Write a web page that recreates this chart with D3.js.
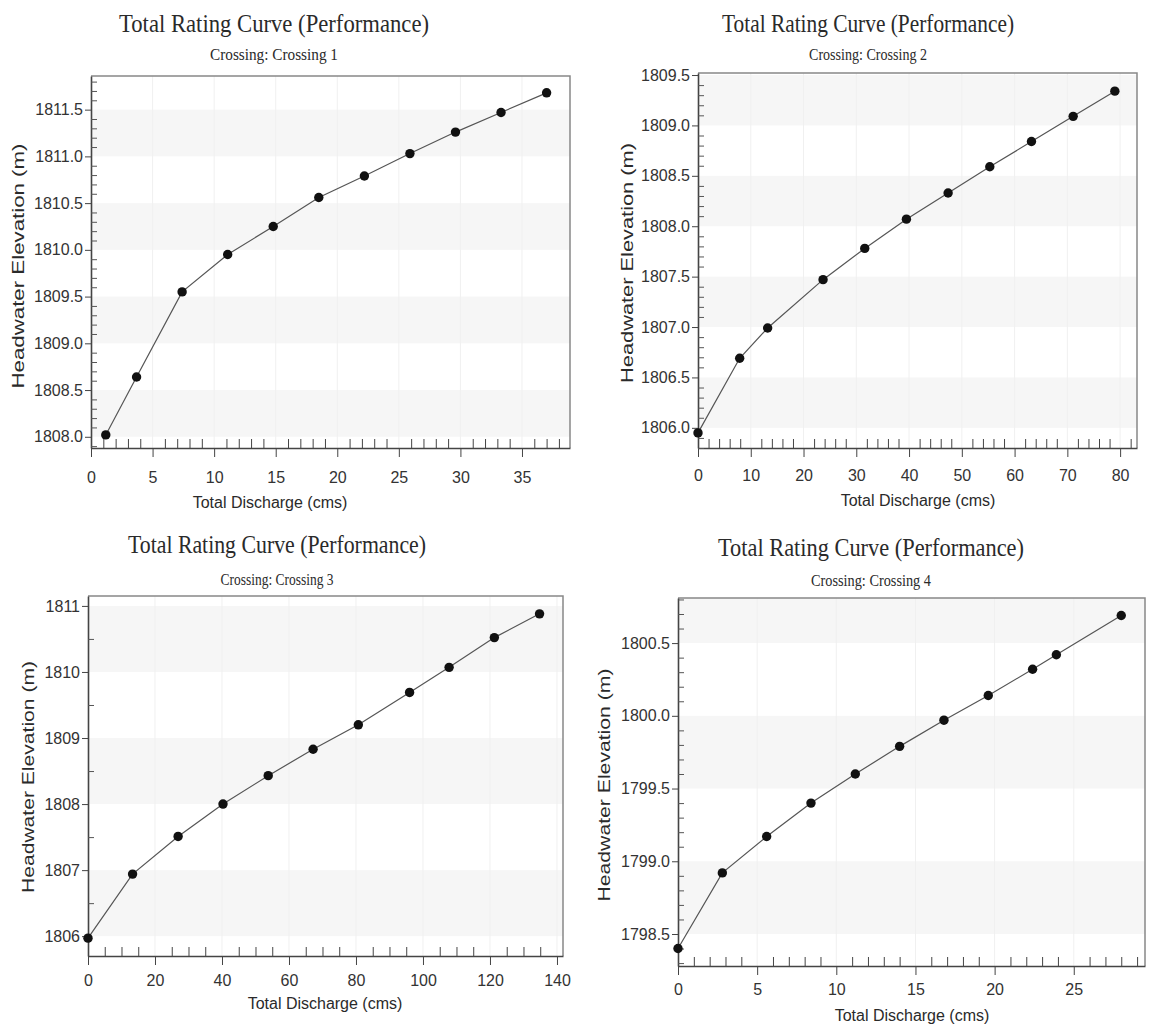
<!DOCTYPE html>
<html>
<head>
<meta charset="utf-8">
<title>Total Rating Curves</title>
<script src="https://cdn.jsdelivr.net/npm/d3@7"></script>
<style>
  body { margin: 0; background: #fff; }
  .tick text { font-family: "Liberation Sans", Arial, sans-serif; font-size: 16px; fill: #333; }
</style>
</head>
<body>
<svg width="1149" height="1030" id="mainsvg"></svg>
<script>
// ---- data ----
const chartTitle = 'Total Rating Curve (Performance)';
const crossings = ['Crossing: Crossing 1', 'Crossing: Crossing 2', 'Crossing: Crossing 3', 'Crossing: Crossing 4'];
const xLabel = 'Total Discharge (cms)';
const yLabel = 'Headwater Elevation (m)';

// discharge (cms) and headwater (m) per crossing
const q1 = [1.2, 3.7, 7.4, 11.1, 14.8, 18.5, 22.2, 25.9, 29.6, 33.3, 37.0];
const h1 = [1808.02, 1808.64, 1809.55, 1809.95, 1810.25, 1810.56, 1810.79, 1811.03, 1811.26, 1811.47, 1811.68];

const q2 = [0, 7.9, 13.2, 23.7, 31.6, 39.5, 47.4, 55.3, 63.2, 71.1, 79.0];
const h2 = [1805.95, 1806.69, 1806.99, 1807.47, 1807.78, 1808.07, 1808.33, 1808.59, 1808.84, 1809.09, 1809.34];

const q3 = [0, 13.3, 26.9, 40.3, 53.8, 67.2, 80.7, 96.0, 107.8, 121.3, 134.8];
const h3 = [1805.97, 1806.94, 1807.51, 1808.0, 1808.43, 1808.83, 1809.2, 1809.69, 1810.07, 1810.52, 1810.88];

const q4 = [0, 2.8, 5.6, 8.4, 11.2, 14.0, 16.8, 19.6, 22.4, 23.9, 28.0];
const h4 = [1798.4, 1798.92, 1799.17, 1799.4, 1799.6, 1799.79, 1799.97, 1800.14, 1800.32, 1800.42, 1800.69];

// tick settings per panel
const xMajorSteps = [5, 10, 20, 5];
const xMinorSteps = [1, 2, 5, 1];
const yMajorSteps = [0.5, 0.5, 1, 0.5];
const yMinorSteps = [0.1, 0.1, 0.5, 0.1];
const yFormats = ['.1f', '.1f', 'd', '.1f'];

// ---- layout ----
const panels = [
  { q: q1, h: h1, box: { l: 91, t: 76, r: 570, b: 448 }, xDom: [0, 38.9], yDom: [1807.88, 1811.86], pad: 15,
    tx: 274, ty: 32, tw: 310, sy: 60, sw: 128, ylx: 18, yly: 266, ylw: 245, xlx: 270, xly: 508 },
  { q: q2, h: h2, box: { l: 698, t: 73, r: 1137, b: 448 }, xDom: [0, 83.2], yDom: [1805.8, 1809.52], pad: 13,
    tx: 868, ty: 32, tw: 292, sy: 60, sw: 118, ylx: 627, yly: 263, ylw: 240, xlx: 918, xly: 506 },
  { q: q3, h: h3, box: { l: 88, t: 596, r: 563, b: 956 }, xDom: [0, 141.8], yDom: [1805.7, 1811.15], pad: 10,
    tx: 277, ty: 553, tw: 298, sy: 585, sw: 113, ylx: 28, yly: 777, ylw: 232, xlx: 325, xly: 1009 },
  { q: q4, h: h4, box: { l: 678, t: 598, r: 1145, b: 966 }, xDom: [0, 29.5], yDom: [1798.28, 1800.81], pad: 9,
    tx: 871, ty: 556, tw: 306, sy: 586, sw: 120, ylx: 604, yly: 785, ylw: 233, xlx: 912, xly: 1021 }
];

const svg = d3.select('svg');
svg.append('rect').attr('width', 1149).attr('height', 1030).attr('fill', '#fff');

const eps = 1e-9;
function ticksBy(dom, step) {
  const start = Math.ceil(dom[0] / step - eps) * step;
  return d3.range(start, dom[1] + eps, step).map(v => +v.toFixed(4));
}

panels.forEach((p, i) => {
  const g = svg.append('g');
  const x = d3.scaleLinear().domain(p.xDom).range([p.box.l, p.box.r]);
  const y = d3.scaleLinear().domain(p.yDom).range([p.box.b, p.box.t]);

  const xMajor = ticksBy(p.xDom, xMajorSteps[i]);
  const xMinor = ticksBy(p.xDom, xMinorSteps[i]).filter(v => !xMajor.some(m => Math.abs(m - v) < 1e-6));
  const yMajor = ticksBy(p.yDom, yMajorSteps[i]);
  const yMinor = ticksBy(p.yDom, yMinorSteps[i]).filter(v => !yMajor.some(m => Math.abs(m - v) < 1e-6));

  // alternating horizontal bands
  yMajor.forEach((v, k) => {
    if (k % 2 !== 0) return;
    const top = Math.min(v + yMajorSteps[i], p.yDom[1]);
    g.append('rect')
      .attr('x', p.box.l).attr('width', p.box.r - p.box.l)
      .attr('y', y(top)).attr('height', y(v) - y(top))
      .attr('fill', '#f6f6f6');
  });

  // faint vertical grid at major x ticks
  g.selectAll('.vgrid').data(xMajor.filter(v => v > 0)).join('line')
    .attr('x1', d => x(d)).attr('x2', d => x(d))
    .attr('y1', p.box.t).attr('y2', p.box.b)
    .attr('stroke', '#f0f0f0').attr('stroke-width', 1);

  // frame (top & right)
  g.append('path')
    .attr('d', `M${p.box.l},${p.box.t}H${p.box.r}V${p.box.b}`)
    .attr('fill', 'none').attr('stroke', '#888').attr('stroke-width', 1.5);

  // bottom axis: majors outside, minors inside
  g.append('g').attr('transform', `translate(0,${p.box.b})`)
    .call(d3.axisBottom(x).tickValues(xMajor).tickSize(9).tickPadding(p.pad).tickSizeOuter(0))
    .call(a => a.select('.domain').attr('stroke', '#444').attr('stroke-width', 1.6))
    .call(a => a.selectAll('.tick line').attr('stroke', '#444'));
  g.append('g').attr('transform', `translate(0,${p.box.b})`)
    .call(d3.axisBottom(x).tickValues(xMinor).tickSize(-9).tickFormat('').tickSizeOuter(0))
    .call(a => a.select('.domain').remove())
    .call(a => a.selectAll('.tick line').attr('stroke', '#444'));

  // left axis: majors outside, minors inside
  g.append('g').attr('transform', `translate(${p.box.l},0)`)
    .call(d3.axisLeft(y).tickValues(yMajor).tickSize(6).tickPadding(2).tickSizeOuter(0).tickFormat(d3.format(yFormats[i])))
    .call(a => a.select('.domain').attr('stroke', '#444').attr('stroke-width', 1.6))
    .call(a => a.selectAll('.tick line').attr('stroke', '#444'));
  g.append('g').attr('transform', `translate(${p.box.l},0)`)
    .call(d3.axisLeft(y).tickValues(yMinor).tickSize(-6).tickFormat('').tickSizeOuter(0))
    .call(a => a.select('.domain').remove())
    .call(a => a.selectAll('.tick line').attr('stroke', '#555'));

  // rating curve
  const pts = p.q.map((v, k) => [v, p.h[k]]);
  g.append('path').datum(pts)
    .attr('d', d3.line().x(d => x(d[0])).y(d => y(d[1])))
    .attr('fill', 'none').attr('stroke', '#555').attr('stroke-width', 1.2);
  g.selectAll('.pt').data(pts).join('circle')
    .attr('cx', d => x(d[0])).attr('cy', d => y(d[1]))
    .attr('r', 4.7).attr('fill', '#111');

  // titles
  g.append('text').attr('x', p.tx).attr('y', p.ty)
    .attr('text-anchor', 'middle')
    .attr('font-family', '"Liberation Serif", "Times New Roman", serif')
    .attr('font-size', 25).attr('fill', '#2a2a2a')
    .attr('textLength', p.tw).attr('lengthAdjust', 'spacingAndGlyphs')
    .text(chartTitle);
  g.append('text').attr('x', p.tx).attr('y', p.sy)
    .attr('text-anchor', 'middle')
    .attr('font-family', '"Liberation Serif", "Times New Roman", serif')
    .attr('font-size', 17).attr('fill', '#2a2a2a')
    .attr('textLength', p.sw).attr('lengthAdjust', 'spacingAndGlyphs')
    .text(crossings[i]);

  // axis labels
  g.append('text').attr('x', p.xlx).attr('y', p.xly)
    .attr('text-anchor', 'middle')
    .attr('font-family', '"Liberation Sans", Arial, sans-serif')
    .attr('font-size', 16).attr('fill', '#2a2a2a')
    .text(xLabel);
  g.append('text')
    .attr('transform', `translate(${p.ylx},${p.yly}) rotate(-90)`)
    .attr('text-anchor', 'middle').attr('dy', '0.35em')
    .attr('font-family', '"Liberation Sans", Arial, sans-serif')
    .attr('font-size', 17).attr('fill', '#2a2a2a')
    .attr('textLength', p.ylw).attr('lengthAdjust', 'spacingAndGlyphs')
    .text(yLabel);
});
</script>
</body>
</html>
